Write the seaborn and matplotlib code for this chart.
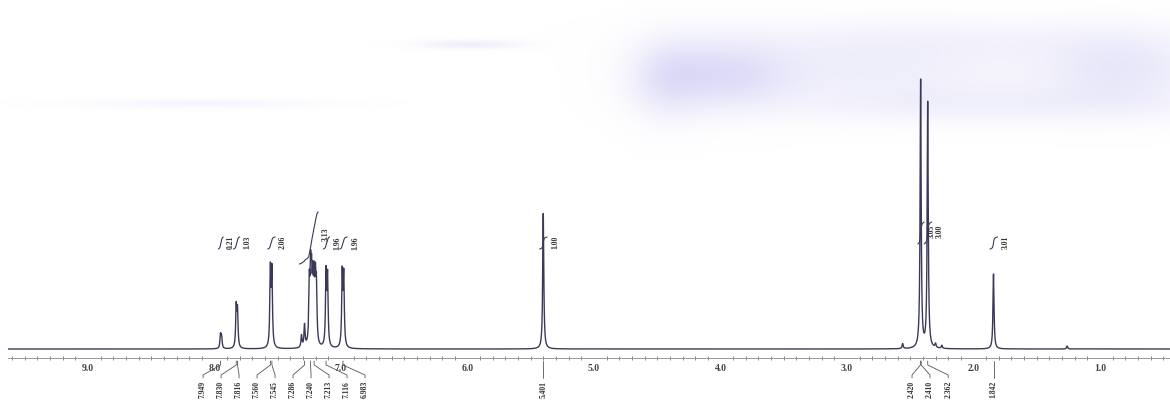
import numpy as np
import pandas as pd
import seaborn as sns
import matplotlib.pyplot as plt
from matplotlib import transforms
from matplotlib.ticker import MultipleLocator

### 1H NMR 스펙트럼 (스캔 이미지 재현)

# 피크 위치(ppm)와 높이 - 그림에서 읽은 값
peak_ppm = [7.952, 7.944, 7.828, 7.818, 7.558, 7.546,
            7.312, 7.288, 7.250, 7.240, 7.232, 7.222, 7.212, 7.202, 7.194,
            7.118, 7.106, 6.990, 6.978,
            5.401, 2.560, 2.418, 2.362, 2.300, 2.250, 1.842, 1.260]
peak_height = [13, 11, 40, 36, 76, 74,
               12, 22, 58, 64, 56, 54, 56, 54, 52,
               72, 68, 72, 70,
               136, 5, 268, 246, 4, 3, 75, 3]

# 적분 구간과 적분값
int_hi = [7.97, 7.85, 7.58, 7.33, 7.14, 7.01, 5.43, 2.44, 2.39, 1.87]
int_lo = [7.93, 7.80, 7.52, 7.18, 7.09, 6.95, 5.37, 2.39, 2.33, 1.81]
int_text = ['0.21', '1.03', '2.06', '3.13', '1.96', '1.96', '1.00', '3.05', '3.00', '3.01']

# 아래쪽 피크 라벨
lab_peaks_left = [7.952, 7.828, 7.818, 7.558, 7.546, 7.288, 7.240, 7.212, 7.118, 6.984]
lab_text_left = ['7.949', '7.830', '7.816', '7.560', '7.545', '7.286',
                 '7.240', '7.213', '7.116', '6.983']
lab_peaks_right = [2.420, 2.414, 2.362]
lab_text_right = ['2.420', '2.410', '2.362']
lab_single = [5.401, 1.842]
lab_text_single = ['5.401', '1.842']

ticks = [9, 8, 7, 6, 5, 4, 3, 2, 1]

# 스펙트럼 곡선 (로렌츠 선모양)
ppm = np.linspace(9.632, 0.447, 14000)
w = 0.005
spec = np.zeros_like(ppm)
for p, h in zip(peak_ppm, peak_height):
    spec += h / (1 + ((ppm - p) / w) ** 2)
df = pd.DataFrame({'ppm': ppm, 'intensity': spec})

sns.set_theme(style='white')
plt.rcParams['font.family'] = ['Liberation Serif', 'DejaVu Sans']

fig = plt.figure(figsize=(11.7, 4.1), dpi=100)

# 스캔 얼룩(배경)
bg = fig.add_axes([0, 0, 1, 1], zorder=0)
bg.axis('off')
H, W = 410, 1170
yy, xx = np.mgrid[0:H, 0:W]
alpha = np.zeros((H, W))
for cx, cy, sx, sy, a in [(720, 75, 50, 24, 0.55), (665, 80, 25, 28, 0.3),
                          (880, 70, 90, 25, 0.28), (1120, 70, 60, 25, 0.4),
                          (1000, 105, 140, 14, 0.22), (470, 45, 35, 3, 0.3),
                          (200, 104, 80, 3, 0.18), (960, 40, 160, 15, 0.14)]:
    alpha += a * np.exp(-0.5 * ((xx - cx) / sx) ** 2 - 0.5 * ((yy - cy) / sy) ** 2)
img = np.zeros((H, W, 4))
img[..., 0], img[..., 1], img[..., 2] = 0.79, 0.78, 0.95
img[..., 3] = np.clip(alpha, 0, 1)
bg.imshow(img, aspect='auto', extent=[0, W, H, 0])
bg.set_xlim(0, W)
bg.set_ylim(H, 0)

ax = fig.add_axes([8 / 1170, 51 / 410, 1162 / 1170, 339 / 410], zorder=1)
ax.patch.set_alpha(0)
line_c = '#3a3a58'
sns.lineplot(data=df, x='ppm', y='intensity', ax=ax, color=line_c, lw=1.0)
ax.set_xlim(9.632, 0.447)
ax.set_ylim(-9, 330)
ax.set_xlabel('')
ax.set_ylabel('')
ax.set_yticks([])
ax.set_xticks(ticks)
ax.set_xticklabels([f'{t:.1f}' for t in ticks], fontsize=7, fontweight='bold', color='#444')
ax.xaxis.set_minor_locator(MultipleLocator(0.1))
ax.tick_params(axis='x', which='major', direction='inout', length=5, width=0.8, color='#666', pad=1)
ax.tick_params(axis='x', which='minor', direction='inout', length=3, width=0.7, color='#888', bottom=True)
sns.despine(ax=ax, left=True)
ax.spines['bottom'].set_color('#999')
ax.spines['bottom'].set_linewidth(0.7)

# 적분 곡선
for hi, lo, txt in zip(int_hi, int_lo, int_text):
    m = (ppm <= hi) & (ppm >= lo)
    c = np.cumsum(spec[m])
    c = c / c[-1]
    if txt == '3.13':
        base, hgt = 85, 52
    elif lo < 3 and lo > 2:
        base, hgt = 105, 22
    else:
        base, hgt = 100, 12
    ax.plot(ppm[m], base + hgt * c, color=line_c, lw=0.8)
    ax.text(lo - 0.03, base + hgt * 0.6, txt, rotation=90, ha='left', va='center',
            fontsize=5.5, fontweight='bold', color='#333')

# 피크 라벨 (아래쪽)
tr = transforms.blended_transform_factory(ax.transData, fig.transFigure)
def fy(y):
    return 1 - y / 410

def peak_label(p, lp, txt):
    ax.plot([p, p, lp, lp], [fy(362), fy(366), fy(376), fy(379)], transform=tr,
            clip_on=False, color='#555', lw=0.6)
    ax.text(lp, fy(381), txt, transform=tr, rotation=90, ha='center', va='top',
            fontsize=5.5, fontweight='bold', color='#333')

left_pos = np.linspace(8.09, 6.81, len(lab_peaks_left))
for p, lp, t in zip(lab_peaks_left, left_pos, lab_text_left):
    peak_label(p, lp, t)
right_pos = [2.486, 2.344, 2.20]
for p, lp, t in zip(lab_peaks_right, right_pos, lab_text_right):
    peak_label(p, lp, t)
for p, t in zip(lab_single, lab_text_single):
    peak_label(p, p, t)

fig.savefig('out.png', dpi=100)
